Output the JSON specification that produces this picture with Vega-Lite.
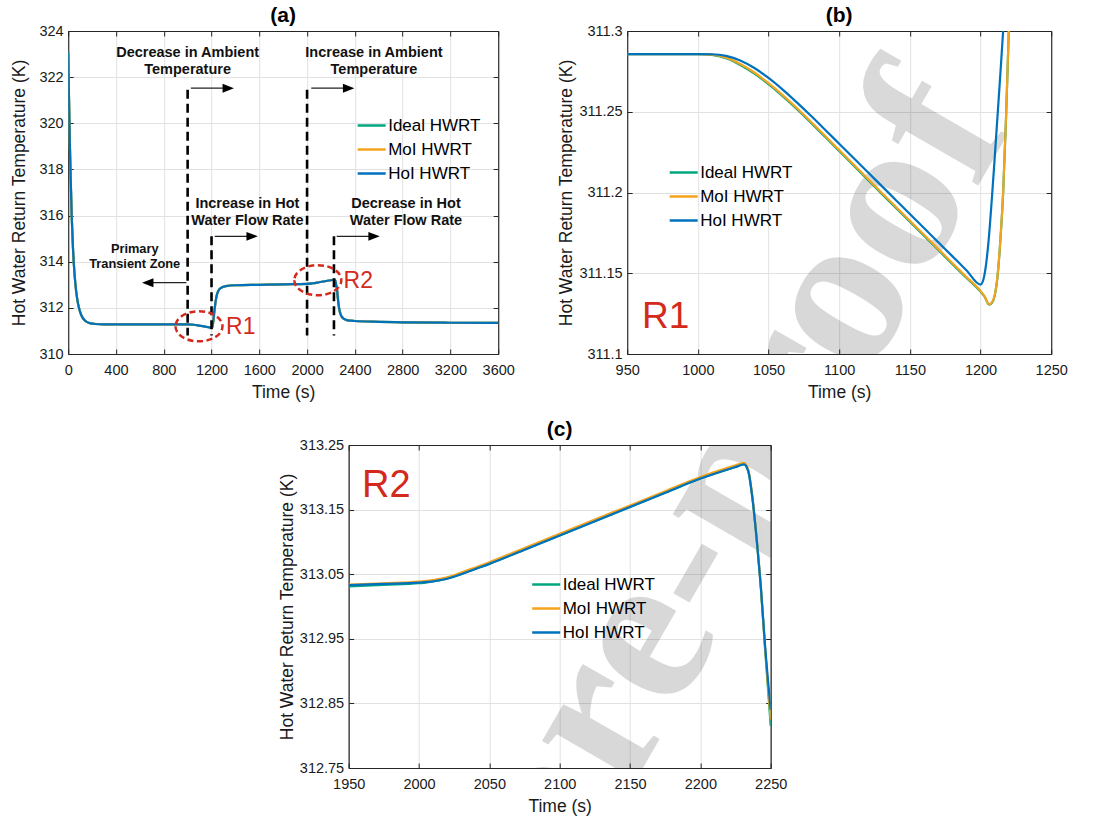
{
  "$schema": "https://vega.github.io/schema/vega-lite/v6.json",
  "background": "white",
  "padding": {"left": 10, "top": 4, "right": 0, "bottom": 0},
  "config": {
    "font": "Liberation Sans",
    "view": {"stroke": "#262626", "strokeWidth": 1},
    "axis": {
      "labelFont": "Liberation Sans", "labelFontSize": 14.5, "labelColor": "#1a1a1a",
      "titleFont": "Liberation Sans", "titleFontSize": 17.5, "titleFontWeight": "normal", "titleColor": "#1a1a1a",
      "domainColor": "#262626", "domainWidth": 1,
      "tickColor": "#262626", "tickSize": -5, "tickWidth": 1,
      "gridColor": "#e2e2e2", "gridWidth": 1, "gridOpacity": 1,
      "labelFlush": false, "labelOverlap": false
    },
    "axisX": {"labelPadding": 14, "titlePadding": 7},
    "axisY": {"labelPadding": 10},
    "title": {"font": "Liberation Sans", "fontSize": 21, "fontWeight": "bold", "color": "#000000", "offset": -3},
    "legend": {
      "symbolType": "stroke", "symbolStrokeWidth": 2.5, "symbolSize": 784,
      "labelFont": "Liberation Sans", "labelFontSize": 17, "labelColor": "#000000",
      "rowPadding": -10.5, "labelOffset": 1, "padding": 0
    }
  },
  "datasets": {
    "a": [
      {"s":"Ideal HWRT","t":0,"T":323.1},{"s":"Ideal HWRT","t":5,"T":321.6},{"s":"Ideal HWRT","t":10,"T":320.2},{"s":"Ideal HWRT","t":15,"T":318.9},{"s":"Ideal HWRT","t":20,"T":317.8},{"s":"Ideal HWRT","t":30,"T":315.9},{"s":"Ideal HWRT","t":40,"T":314.6},{"s":"Ideal HWRT","t":50,"T":313.7},{"s":"Ideal HWRT","t":60,"T":313.05},{"s":"Ideal HWRT","t":75,"T":312.4},{"s":"Ideal HWRT","t":90,"T":312.0},{"s":"Ideal HWRT","t":110,"T":311.68},{"s":"Ideal HWRT","t":140,"T":311.45},{"s":"Ideal HWRT","t":180,"T":311.34},{"s":"Ideal HWRT","t":230,"T":311.3},{"s":"Ideal HWRT","t":300,"T":311.288},{"s":"Ideal HWRT","t":600,"T":311.286},{"s":"Ideal HWRT","t":1000,"T":311.286},{"s":"Ideal HWRT","t":1050,"T":311.267},{"s":"Ideal HWRT","t":1100,"T":311.226},{"s":"Ideal HWRT","t":1150,"T":311.182},{"s":"Ideal HWRT","t":1200,"T":311.138},{"s":"Ideal HWRT","t":1206,"T":311.13},{"s":"Ideal HWRT","t":1212,"T":311.3},{"s":"Ideal HWRT","t":1220,"T":311.65},{"s":"Ideal HWRT","t":1230,"T":312.1},{"s":"Ideal HWRT","t":1240,"T":312.45},{"s":"Ideal HWRT","t":1250,"T":312.65},{"s":"Ideal HWRT","t":1265,"T":312.8},{"s":"Ideal HWRT","t":1285,"T":312.88},{"s":"Ideal HWRT","t":1320,"T":312.94},{"s":"Ideal HWRT","t":1400,"T":312.98},{"s":"Ideal HWRT","t":1600,"T":313.0},{"s":"Ideal HWRT","t":1800,"T":313.02},{"s":"Ideal HWRT","t":2000,"T":313.036},{"s":"Ideal HWRT","t":2050,"T":313.066},{"s":"Ideal HWRT","t":2100,"T":313.11},{"s":"Ideal HWRT","t":2150,"T":313.155},{"s":"Ideal HWRT","t":2200,"T":313.198},{"s":"Ideal HWRT","t":2232,"T":313.222},{"s":"Ideal HWRT","t":2238,"T":313.15},{"s":"Ideal HWRT","t":2244,"T":312.98},{"s":"Ideal HWRT","t":2250,"T":312.82},{"s":"Ideal HWRT","t":2258,"T":312.4},{"s":"Ideal HWRT","t":2266,"T":312.05},{"s":"Ideal HWRT","t":2276,"T":311.8},{"s":"Ideal HWRT","t":2290,"T":311.62},{"s":"Ideal HWRT","t":2310,"T":311.52},{"s":"Ideal HWRT","t":2340,"T":311.46},{"s":"Ideal HWRT","t":2400,"T":311.43},{"s":"Ideal HWRT","t":2600,"T":311.395},{"s":"Ideal HWRT","t":2800,"T":311.375},{"s":"Ideal HWRT","t":3200,"T":311.355},{"s":"Ideal HWRT","t":3600,"T":311.345},
      {"s":"MoI HWRT","t":0,"T":323.1},{"s":"MoI HWRT","t":5,"T":321.6},{"s":"MoI HWRT","t":10,"T":320.2},{"s":"MoI HWRT","t":15,"T":318.9},{"s":"MoI HWRT","t":20,"T":317.8},{"s":"MoI HWRT","t":30,"T":315.9},{"s":"MoI HWRT","t":40,"T":314.6},{"s":"MoI HWRT","t":50,"T":313.7},{"s":"MoI HWRT","t":60,"T":313.05},{"s":"MoI HWRT","t":75,"T":312.4},{"s":"MoI HWRT","t":90,"T":312.0},{"s":"MoI HWRT","t":110,"T":311.68},{"s":"MoI HWRT","t":140,"T":311.45},{"s":"MoI HWRT","t":180,"T":311.34},{"s":"MoI HWRT","t":230,"T":311.3},{"s":"MoI HWRT","t":300,"T":311.288},{"s":"MoI HWRT","t":600,"T":311.286},{"s":"MoI HWRT","t":1000,"T":311.286},{"s":"MoI HWRT","t":1050,"T":311.267},{"s":"MoI HWRT","t":1100,"T":311.226},{"s":"MoI HWRT","t":1150,"T":311.182},{"s":"MoI HWRT","t":1200,"T":311.138},{"s":"MoI HWRT","t":1206,"T":311.13},{"s":"MoI HWRT","t":1212,"T":311.3},{"s":"MoI HWRT","t":1220,"T":311.65},{"s":"MoI HWRT","t":1230,"T":312.1},{"s":"MoI HWRT","t":1240,"T":312.45},{"s":"MoI HWRT","t":1250,"T":312.65},{"s":"MoI HWRT","t":1265,"T":312.8},{"s":"MoI HWRT","t":1285,"T":312.88},{"s":"MoI HWRT","t":1320,"T":312.94},{"s":"MoI HWRT","t":1400,"T":312.98},{"s":"MoI HWRT","t":1600,"T":313.0},{"s":"MoI HWRT","t":1800,"T":313.02},{"s":"MoI HWRT","t":2000,"T":313.036},{"s":"MoI HWRT","t":2050,"T":313.066},{"s":"MoI HWRT","t":2100,"T":313.11},{"s":"MoI HWRT","t":2150,"T":313.155},{"s":"MoI HWRT","t":2200,"T":313.198},{"s":"MoI HWRT","t":2232,"T":313.222},{"s":"MoI HWRT","t":2238,"T":313.15},{"s":"MoI HWRT","t":2244,"T":312.98},{"s":"MoI HWRT","t":2250,"T":312.82},{"s":"MoI HWRT","t":2258,"T":312.4},{"s":"MoI HWRT","t":2266,"T":312.05},{"s":"MoI HWRT","t":2276,"T":311.8},{"s":"MoI HWRT","t":2290,"T":311.62},{"s":"MoI HWRT","t":2310,"T":311.52},{"s":"MoI HWRT","t":2340,"T":311.46},{"s":"MoI HWRT","t":2400,"T":311.43},{"s":"MoI HWRT","t":2600,"T":311.395},{"s":"MoI HWRT","t":2800,"T":311.375},{"s":"MoI HWRT","t":3200,"T":311.355},{"s":"MoI HWRT","t":3600,"T":311.345},
      {"s":"HoI HWRT","t":0,"T":323.1},{"s":"HoI HWRT","t":5,"T":321.6},{"s":"HoI HWRT","t":10,"T":320.2},{"s":"HoI HWRT","t":15,"T":318.9},{"s":"HoI HWRT","t":20,"T":317.8},{"s":"HoI HWRT","t":30,"T":315.9},{"s":"HoI HWRT","t":40,"T":314.6},{"s":"HoI HWRT","t":50,"T":313.7},{"s":"HoI HWRT","t":60,"T":313.05},{"s":"HoI HWRT","t":75,"T":312.4},{"s":"HoI HWRT","t":90,"T":312.0},{"s":"HoI HWRT","t":110,"T":311.68},{"s":"HoI HWRT","t":140,"T":311.45},{"s":"HoI HWRT","t":180,"T":311.34},{"s":"HoI HWRT","t":230,"T":311.3},{"s":"HoI HWRT","t":300,"T":311.288},{"s":"HoI HWRT","t":600,"T":311.286},{"s":"HoI HWRT","t":1000,"T":311.286},{"s":"HoI HWRT","t":1050,"T":311.269},{"s":"HoI HWRT","t":1100,"T":311.229},{"s":"HoI HWRT","t":1150,"T":311.186},{"s":"HoI HWRT","t":1200,"T":311.142},{"s":"HoI HWRT","t":1206,"T":311.172},{"s":"HoI HWRT","t":1212,"T":311.32},{"s":"HoI HWRT","t":1220,"T":311.68},{"s":"HoI HWRT","t":1230,"T":312.12},{"s":"HoI HWRT","t":1240,"T":312.46},{"s":"HoI HWRT","t":1250,"T":312.65},{"s":"HoI HWRT","t":1265,"T":312.8},{"s":"HoI HWRT","t":1285,"T":312.88},{"s":"HoI HWRT","t":1320,"T":312.94},{"s":"HoI HWRT","t":1400,"T":312.98},{"s":"HoI HWRT","t":1600,"T":313.0},{"s":"HoI HWRT","t":1800,"T":313.02},{"s":"HoI HWRT","t":2000,"T":313.036},{"s":"HoI HWRT","t":2050,"T":313.066},{"s":"HoI HWRT","t":2100,"T":313.11},{"s":"HoI HWRT","t":2150,"T":313.155},{"s":"HoI HWRT","t":2200,"T":313.198},{"s":"HoI HWRT","t":2232,"T":313.222},{"s":"HoI HWRT","t":2238,"T":313.15},{"s":"HoI HWRT","t":2244,"T":312.98},{"s":"HoI HWRT","t":2250,"T":312.83},{"s":"HoI HWRT","t":2258,"T":312.4},{"s":"HoI HWRT","t":2266,"T":312.05},{"s":"HoI HWRT","t":2276,"T":311.8},{"s":"HoI HWRT","t":2290,"T":311.62},{"s":"HoI HWRT","t":2310,"T":311.52},{"s":"HoI HWRT","t":2340,"T":311.46},{"s":"HoI HWRT","t":2400,"T":311.43},{"s":"HoI HWRT","t":2600,"T":311.395},{"s":"HoI HWRT","t":2800,"T":311.375},{"s":"HoI HWRT","t":3200,"T":311.355},{"s":"HoI HWRT","t":3600,"T":311.345}
    ],
    "b": [
      {"s":"Ideal HWRT","t":950,"T":311.2857},{"s":"Ideal HWRT","t":1000,"T":311.2857},{"s":"Ideal HWRT","t":1010,"T":311.2852},{"s":"Ideal HWRT","t":1020,"T":311.2831},{"s":"Ideal HWRT","t":1030,"T":311.279},{"s":"Ideal HWRT","t":1040,"T":311.2737},{"s":"Ideal HWRT","t":1050,"T":311.2671},{"s":"Ideal HWRT","t":1060,"T":311.2597},{"s":"Ideal HWRT","t":1070,"T":311.2517},{"s":"Ideal HWRT","t":1080,"T":311.2432},{"s":"Ideal HWRT","t":1090,"T":311.2345},{"s":"Ideal HWRT","t":1100,"T":311.2257},{"s":"Ideal HWRT","t":1110,"T":311.2169},{"s":"Ideal HWRT","t":1120,"T":311.2081},{"s":"Ideal HWRT","t":1130,"T":311.1993},{"s":"Ideal HWRT","t":1140,"T":311.1906},{"s":"Ideal HWRT","t":1150,"T":311.1819},{"s":"Ideal HWRT","t":1160,"T":311.1732},{"s":"Ideal HWRT","t":1170,"T":311.1645},{"s":"Ideal HWRT","t":1180,"T":311.1558},{"s":"Ideal HWRT","t":1190,"T":311.1472},{"s":"Ideal HWRT","t":1200,"T":311.1386},{"s":"Ideal HWRT","t":1203,"T":311.1353},{"s":"Ideal HWRT","t":1206,"T":311.1306},{"s":"Ideal HWRT","t":1208,"T":311.1316},{"s":"Ideal HWRT","t":1210,"T":311.136},{"s":"Ideal HWRT","t":1212,"T":311.1478},{"s":"Ideal HWRT","t":1214,"T":311.1698},{"s":"Ideal HWRT","t":1216,"T":311.1998},{"s":"Ideal HWRT","t":1218,"T":311.2448},{"s":"Ideal HWRT","t":1220,"T":311.2998},{"s":"Ideal HWRT","t":1222,"T":311.36},
      {"s":"MoI HWRT","t":950,"T":311.2857},{"s":"MoI HWRT","t":1000,"T":311.2857},{"s":"MoI HWRT","t":1010,"T":311.2853},{"s":"MoI HWRT","t":1020,"T":311.2835},{"s":"MoI HWRT","t":1030,"T":311.2796},{"s":"MoI HWRT","t":1040,"T":311.2743},{"s":"MoI HWRT","t":1050,"T":311.2677},{"s":"MoI HWRT","t":1060,"T":311.2603},{"s":"MoI HWRT","t":1070,"T":311.2523},{"s":"MoI HWRT","t":1080,"T":311.2438},{"s":"MoI HWRT","t":1090,"T":311.2351},{"s":"MoI HWRT","t":1100,"T":311.2263},{"s":"MoI HWRT","t":1110,"T":311.2175},{"s":"MoI HWRT","t":1120,"T":311.2087},{"s":"MoI HWRT","t":1130,"T":311.1999},{"s":"MoI HWRT","t":1140,"T":311.1912},{"s":"MoI HWRT","t":1150,"T":311.1825},{"s":"MoI HWRT","t":1160,"T":311.1738},{"s":"MoI HWRT","t":1170,"T":311.1651},{"s":"MoI HWRT","t":1180,"T":311.1564},{"s":"MoI HWRT","t":1190,"T":311.1477},{"s":"MoI HWRT","t":1200,"T":311.139},{"s":"MoI HWRT","t":1203,"T":311.1355},{"s":"MoI HWRT","t":1206,"T":311.1308},{"s":"MoI HWRT","t":1208,"T":311.1318},{"s":"MoI HWRT","t":1210,"T":311.1362},{"s":"MoI HWRT","t":1212,"T":311.148},{"s":"MoI HWRT","t":1214,"T":311.17},{"s":"MoI HWRT","t":1216,"T":311.2},{"s":"MoI HWRT","t":1218,"T":311.245},{"s":"MoI HWRT","t":1220,"T":311.3},{"s":"MoI HWRT","t":1222,"T":311.36},
      {"s":"HoI HWRT","t":950,"T":311.2857},{"s":"HoI HWRT","t":1000,"T":311.2857},{"s":"HoI HWRT","t":1010,"T":311.2856},{"s":"HoI HWRT","t":1020,"T":311.2846},{"s":"HoI HWRT","t":1030,"T":311.2818},{"s":"HoI HWRT","t":1040,"T":311.2771},{"s":"HoI HWRT","t":1050,"T":311.2709},{"s":"HoI HWRT","t":1060,"T":311.2637},{"s":"HoI HWRT","t":1070,"T":311.2558},{"s":"HoI HWRT","t":1080,"T":311.2475},{"s":"HoI HWRT","t":1090,"T":311.2389},{"s":"HoI HWRT","t":1100,"T":311.2302},{"s":"HoI HWRT","t":1110,"T":311.2215},{"s":"HoI HWRT","t":1120,"T":311.2128},{"s":"HoI HWRT","t":1130,"T":311.2041},{"s":"HoI HWRT","t":1140,"T":311.1954},{"s":"HoI HWRT","t":1150,"T":311.1867},{"s":"HoI HWRT","t":1160,"T":311.178},{"s":"HoI HWRT","t":1170,"T":311.1693},{"s":"HoI HWRT","t":1180,"T":311.1606},{"s":"HoI HWRT","t":1190,"T":311.1519},{"s":"HoI HWRT","t":1200,"T":311.143},{"s":"HoI HWRT","t":1202,"T":311.146},{"s":"HoI HWRT","t":1204,"T":311.156},{"s":"HoI HWRT","t":1206,"T":311.173},{"s":"HoI HWRT","t":1208,"T":311.196},{"s":"HoI HWRT","t":1210,"T":311.221},{"s":"HoI HWRT","t":1212,"T":311.247},{"s":"HoI HWRT","t":1214,"T":311.273},{"s":"HoI HWRT","t":1216,"T":311.3},{"s":"HoI HWRT","t":1218,"T":311.33}
    ],
    "c": [
      {"s":"Ideal HWRT","t":1950,"T":313.031},{"s":"Ideal HWRT","t":1975,"T":313.0335},{"s":"Ideal HWRT","t":2000,"T":313.036},{"s":"Ideal HWRT","t":2010,"T":313.039},{"s":"Ideal HWRT","t":2020,"T":313.043},{"s":"Ideal HWRT","t":2030,"T":313.05},{"s":"Ideal HWRT","t":2040,"T":313.058},{"s":"Ideal HWRT","t":2050,"T":313.066},{"s":"Ideal HWRT","t":2075,"T":313.088},{"s":"Ideal HWRT","t":2100,"T":313.11},{"s":"Ideal HWRT","t":2125,"T":313.132},{"s":"Ideal HWRT","t":2150,"T":313.154},{"s":"Ideal HWRT","t":2175,"T":313.176},{"s":"Ideal HWRT","t":2200,"T":313.198},{"s":"Ideal HWRT","t":2225,"T":313.216},{"s":"Ideal HWRT","t":2231,"T":313.22},{"s":"Ideal HWRT","t":2234,"T":313.21},{"s":"Ideal HWRT","t":2237,"T":313.168},{"s":"Ideal HWRT","t":2240,"T":313.105},{"s":"Ideal HWRT","t":2243,"T":313.03},{"s":"Ideal HWRT","t":2246,"T":312.935},{"s":"Ideal HWRT","t":2250,"T":312.815},
      {"s":"MoI HWRT","t":1950,"T":313.034},{"s":"MoI HWRT","t":1975,"T":313.036},{"s":"MoI HWRT","t":2000,"T":313.0385},{"s":"MoI HWRT","t":2010,"T":313.041},{"s":"MoI HWRT","t":2020,"T":313.045},{"s":"MoI HWRT","t":2030,"T":313.0525},{"s":"MoI HWRT","t":2040,"T":313.0605},{"s":"MoI HWRT","t":2050,"T":313.0685},{"s":"MoI HWRT","t":2075,"T":313.0905},{"s":"MoI HWRT","t":2100,"T":313.1125},{"s":"MoI HWRT","t":2125,"T":313.1345},{"s":"MoI HWRT","t":2150,"T":313.1565},{"s":"MoI HWRT","t":2175,"T":313.1785},{"s":"MoI HWRT","t":2200,"T":313.2005},{"s":"MoI HWRT","t":2225,"T":313.2185},{"s":"MoI HWRT","t":2231,"T":313.2225},{"s":"MoI HWRT","t":2234,"T":313.212},{"s":"MoI HWRT","t":2237,"T":313.17},{"s":"MoI HWRT","t":2240,"T":313.105},{"s":"MoI HWRT","t":2243,"T":313.03},{"s":"MoI HWRT","t":2246,"T":312.935},{"s":"MoI HWRT","t":2250,"T":312.825},
      {"s":"HoI HWRT","t":1950,"T":313.033},{"s":"HoI HWRT","t":1975,"T":313.035},{"s":"HoI HWRT","t":2000,"T":313.037},{"s":"HoI HWRT","t":2010,"T":313.039},{"s":"HoI HWRT","t":2020,"T":313.043},{"s":"HoI HWRT","t":2030,"T":313.05},{"s":"HoI HWRT","t":2040,"T":313.058},{"s":"HoI HWRT","t":2050,"T":313.066},{"s":"HoI HWRT","t":2075,"T":313.088},{"s":"HoI HWRT","t":2100,"T":313.11},{"s":"HoI HWRT","t":2125,"T":313.132},{"s":"HoI HWRT","t":2150,"T":313.154},{"s":"HoI HWRT","t":2175,"T":313.176},{"s":"HoI HWRT","t":2200,"T":313.198},{"s":"HoI HWRT","t":2225,"T":313.216},{"s":"HoI HWRT","t":2231,"T":313.22},{"s":"HoI HWRT","t":2234,"T":313.21},{"s":"HoI HWRT","t":2237,"T":313.168},{"s":"HoI HWRT","t":2240,"T":313.105},{"s":"HoI HWRT","t":2243,"T":313.03},{"s":"HoI HWRT","t":2246,"T":312.94},{"s":"HoI HWRT","t":2250,"T":312.84}
    ],
    "dash": [
      {"t":1000,"y1":321.45,"y2":310.8},{"t":1200,"y1":315.1,"y2":310.8},{"t":2000,"y1":321.45,"y2":310.8},{"t":2225,"y1":315.1,"y2":310.8}
    ],
    "arrows": [
      {"x1":1027,"x2":1340,"y":321.52,"dir":"r"},
      {"x1":2035,"x2":2348,"y":321.52,"dir":"r"},
      {"x1":1227,"x2":1540,"y":315.1,"dir":"r"},
      {"x1":2248,"x2":2561,"y":315.1,"dir":"r"},
      {"x1":990,"x2":666,"y":313.09,"dir":"l"}
    ],
    "ellipses": [
      {"t":1095,"T":311.2},{"t":2090,"T":313.2}
    ],
    "boldText": [
      {"t":1000,"T":323.05,"text":"Decrease in Ambient"},{"t":1000,"T":322.3,"text":"Temperature"},
      {"t":2560,"T":323.05,"text":"Increase in Ambient"},{"t":2560,"T":322.3,"text":"Temperature"},
      {"t":1500,"T":316.51,"text":"Increase in Hot"},{"t":1500,"T":315.76,"text":"Water Flow Rate"},
      {"t":2828,"T":316.51,"text":"Decrease in Hot"},{"t":2828,"T":315.76,"text":"Water Flow Rate"}
    ],
    "smallText": [
      {"t":557,"T":314.54,"text":"Primary"},{"t":557,"T":313.89,"text":"Transient Zone"}
    ],
    "rA": [
      {"t":1322,"T":310.85,"text":"R1"},{"t":2306,"T":312.875,"text":"R2"}
    ],
    "rB": [{"t":960.5,"T":311.1163,"text":"R1"}],
    "rC": [{"t":1959.5,"T":313.169,"text":"R2"}],
    "wmB": [{"t":864.7,"T":310.7803,"text":"pre-proof"}],
    "wmC": [{"t":2063.4,"T":312.593,"text":"pre-proof"}]
  },
  "spacing": 16,
  "center": true,
  "resolve": {"scale": {"color": "independent"}, "legend": {"color": "independent"}},
  "vconcat": [
    {
      "spacing": 42,
      "resolve": {"scale": {"color": "independent"}, "legend": {"color": "independent"}},
      "hconcat": [
        {
          "width": 430, "height": 323,
          "title": {"text": "(a)"},
          "resolve": {"axis": {"x": "independent", "y": "independent"}},
          "layer": [
            {
              "data": {"name": "a"},
              "mark": {"type": "line", "strokeWidth": 2.2, "clip": true, "interpolate": "monotone"},
              "encoding": {
                "x": {"field": "t", "type": "quantitative", "scale": {"domain": [0, 3600], "nice": false, "zero": false},
                      "axis": {"title": "Time (s)", "values": [0,400,800,1200,1600,2000,2400,2800,3200,3600], "format": "d", "grid": true}},
                "y": {"field": "T", "type": "quantitative", "scale": {"domain": [310, 324], "nice": false, "zero": false},
                      "axis": {"title": "Hot Water Return Temperature (K)", "values": [310,312,314,316,318,320,322,324], "format": "d", "grid": true, "titlePadding": 10}},
                "color": {"field": "s", "type": "nominal",
                          "scale": {"domain": ["Ideal HWRT","MoI HWRT","HoI HWRT"], "range": ["#00a67e","#f4a31c","#0072bd"]},
                          "legend": {"orient": "none", "legendX": 288, "legendY": 79, "title": null}}
              }
            },
            {
              "data": {"name": "a"},
              "mark": {"type": "point", "opacity": 0, "clip": true},
              "encoding": {
                "x": {"field": "t", "type": "quantitative", "axis": {"orient": "top", "labels": false, "title": null, "grid": false, "values": [0,400,800,1200,1600,2000,2400,2800,3200,3600]}},
                "y": {"field": "T", "type": "quantitative", "axis": {"orient": "right", "labels": false, "title": null, "grid": false, "values": [310,312,314,316,318,320,322,324]}}
              }
            },
            {
              "data": {"name": "dash"},
              "mark": {"type": "rule", "color": "#000000", "strokeWidth": 2.6, "strokeDash": [9, 5]},
              "encoding": {
                "x": {"field": "t", "type": "quantitative", "axis": null},
                "y": {"field": "y1", "type": "quantitative", "axis": null},
                "y2": {"field": "y2"}
              }
            },
            {
              "data": {"name": "arrows"},
              "mark": {"type": "rule", "color": "#222222", "strokeWidth": 1.3},
              "encoding": {
                "x": {"field": "x1", "type": "quantitative", "axis": null},
                "x2": {"field": "x2"},
                "y": {"field": "y", "type": "quantitative", "axis": null}
              }
            },
            {
              "data": {"name": "arrows"},
              "mark": {"type": "point", "filled": true, "color": "#000000", "size": 130, "opacity": 1},
              "encoding": {
                "x": {"field": "x2", "type": "quantitative", "axis": null},
                "y": {"field": "y", "type": "quantitative", "axis": null},
                "shape": {"field": "dir", "type": "nominal", "legend": null,
                          "scale": {"domain": ["r", "l"], "range": ["M1,0L-1,-0.78L-1,0.78Z", "M-1,0L1,-0.78L1,0.78Z"]}}
              }
            },
            {
              "data": {"name": "ellipses"},
              "mark": {"type": "point", "shape": "M-1,0A1,0.64,0,1,0,1,0A1,0.64,0,1,0,-1,0Z", "filled": false,
                       "stroke": "#d42a1e", "strokeWidth": 2.5, "strokeDash": [6, 3.5], "size": 2209, "opacity": 1},
              "encoding": {
                "x": {"field": "t", "type": "quantitative", "axis": null},
                "y": {"field": "T", "type": "quantitative", "axis": null}
              }
            },
            {
              "data": {"name": "boldText"},
              "mark": {"type": "text", "font": "Liberation Sans", "fontWeight": "bold", "fontSize": 14.5, "color": "#111111", "align": "center", "baseline": "middle"},
              "encoding": {
                "x": {"field": "t", "type": "quantitative", "axis": null},
                "y": {"field": "T", "type": "quantitative", "axis": null},
                "text": {"field": "text"}
              }
            },
            {
              "data": {"name": "smallText"},
              "mark": {"type": "text", "font": "Liberation Sans", "fontWeight": "bold", "fontSize": 12.8, "color": "#111111", "align": "center", "baseline": "middle"},
              "encoding": {
                "x": {"field": "t", "type": "quantitative", "axis": null},
                "y": {"field": "T", "type": "quantitative", "axis": null},
                "text": {"field": "text"}
              }
            },
            {
              "data": {"name": "rA"},
              "mark": {"type": "text", "font": "Liberation Sans", "fontSize": 23, "color": "#d42a1e", "align": "left", "baseline": "alphabetic"},
              "encoding": {
                "x": {"field": "t", "type": "quantitative", "axis": null},
                "y": {"field": "T", "type": "quantitative", "axis": null},
                "text": {"field": "text"}
              }
            }
          ]
        },
        {
          "width": 424, "height": 323,
          "title": {"text": "(b)"},
          "resolve": {"axis": {"x": "independent", "y": "independent"}},
          "layer": [
            {
              "data": {"name": "wmB"},
              "mark": {"type": "text", "font": "Liberation Serif", "fontWeight": "bold", "fontSize": 220, "angle": -60, "color": "#000000", "opacity": 0.15, "align": "left", "baseline": "middle", "clip": true},
              "encoding": {
                "x": {"field": "t", "type": "quantitative", "axis": null},
                "y": {"field": "T", "type": "quantitative", "axis": null},
                "text": {"field": "text"}
              }
            },
            {
              "data": {"name": "b"},
              "mark": {"type": "line", "strokeWidth": 2.2, "clip": true, "interpolate": "monotone"},
              "encoding": {
                "x": {"field": "t", "type": "quantitative", "scale": {"domain": [950, 1250], "nice": false, "zero": false},
                      "axis": {"title": "Time (s)", "values": [950,1000,1050,1100,1150,1200,1250], "format": "d", "grid": true}},
                "y": {"field": "T", "type": "quantitative", "scale": {"domain": [311.1, 311.3], "nice": false, "zero": false},
                      "axis": {"title": "Hot Water Return Temperature (K)", "values": [311.1,311.15,311.2,311.25,311.3], "format": ".2~f", "grid": true, "titlePadding": 3}},
                "color": {"field": "s", "type": "nominal",
                          "scale": {"domain": ["Ideal HWRT","MoI HWRT","HoI HWRT"], "range": ["#00a67e","#f4a31c","#0072bd"]},
                          "legend": {"orient": "none", "legendX": 41, "legendY": 126, "title": null}}
              }
            },
            {
              "data": {"name": "b"},
              "mark": {"type": "point", "opacity": 0, "clip": true},
              "encoding": {
                "x": {"field": "t", "type": "quantitative", "axis": {"orient": "top", "labels": false, "title": null, "grid": false, "values": [950,1000,1050,1100,1150,1200,1250]}},
                "y": {"field": "T", "type": "quantitative", "axis": {"orient": "right", "labels": false, "title": null, "grid": false, "values": [311.1,311.15,311.2,311.25,311.3]}}
              }
            },
            {
              "data": {"name": "rB"},
              "mark": {"type": "text", "font": "Liberation Sans", "fontSize": 37, "color": "#d42a1e", "align": "left", "baseline": "alphabetic"},
              "encoding": {
                "x": {"field": "t", "type": "quantitative", "axis": null},
                "y": {"field": "T", "type": "quantitative", "axis": null},
                "text": {"field": "text"}
              }
            }
          ]
        }
      ]
    },
    {
      "width": 422, "height": 323,
      "title": {"text": "(c)"},
      "resolve": {"axis": {"x": "independent", "y": "independent"}},
      "layer": [
        {
          "data": {"name": "wmC"},
          "mark": {"type": "text", "font": "Liberation Serif", "fontWeight": "bold", "fontSize": 220, "angle": -60, "color": "#000000", "opacity": 0.15, "align": "left", "baseline": "middle", "clip": true},
          "encoding": {
            "x": {"field": "t", "type": "quantitative", "axis": null},
            "y": {"field": "T", "type": "quantitative", "axis": null},
            "text": {"field": "text"}
          }
        },
        {
          "data": {"name": "c"},
          "mark": {"type": "line", "strokeWidth": 2.2, "clip": true, "interpolate": "monotone"},
          "encoding": {
            "x": {"field": "t", "type": "quantitative", "scale": {"domain": [1950, 2250], "nice": false, "zero": false},
                  "axis": {"title": "Time (s)", "values": [1950,2000,2050,2100,2150,2200,2250], "format": "d", "grid": true}},
            "y": {"field": "T", "type": "quantitative", "scale": {"domain": [312.75, 313.25], "nice": false, "zero": false},
                  "axis": {"title": "Hot Water Return Temperature (K)", "values": [312.75,312.85,312.95,313.05,313.15,313.25], "format": ".2f", "grid": true, "titlePadding": 3}},
            "color": {"field": "s", "type": "nominal",
                      "scale": {"domain": ["Ideal HWRT","MoI HWRT","HoI HWRT"], "range": ["#00a67e","#f4a31c","#0072bd"]},
                      "legend": {"orient": "none", "legendX": 182, "legendY": 124, "title": null}}
          }
        },
        {
          "data": {"name": "c"},
          "mark": {"type": "point", "opacity": 0, "clip": true},
          "encoding": {
            "x": {"field": "t", "type": "quantitative", "axis": {"orient": "top", "labels": false, "title": null, "grid": false, "values": [1950,2000,2050,2100,2150,2200,2250]}},
            "y": {"field": "T", "type": "quantitative", "axis": {"orient": "right", "labels": false, "title": null, "grid": false, "values": [312.75,312.85,312.95,313.05,313.15,313.25]}}
          }
        },
        {
          "data": {"name": "rC"},
          "mark": {"type": "text", "font": "Liberation Sans", "fontSize": 38, "color": "#d42a1e", "align": "left", "baseline": "alphabetic"},
          "encoding": {
            "x": {"field": "t", "type": "quantitative", "axis": null},
            "y": {"field": "T", "type": "quantitative", "axis": null},
            "text": {"field": "text"}
          }
        }
      ]
    }
  ]
}
